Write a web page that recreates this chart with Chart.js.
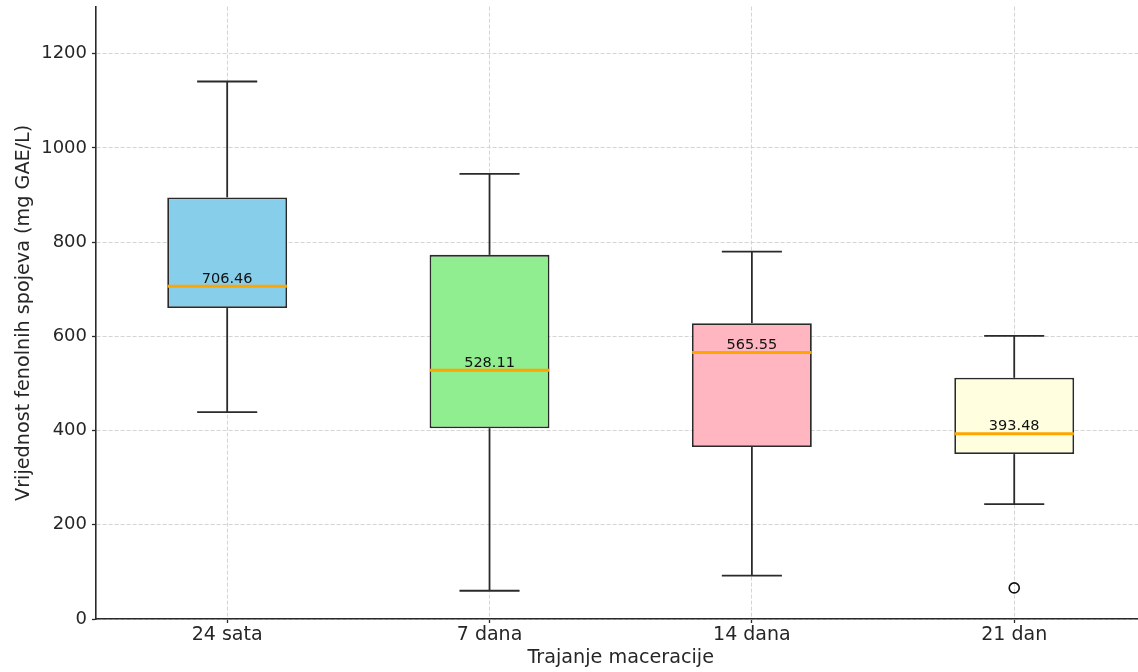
<!DOCTYPE html>
<html>
<head>
<meta charset="utf-8">
<script src="https://cdn.jsdelivr.net/npm/chart.js@4.4.1/dist/chart.umd.min.js"></script>
<style>
  html, body { margin: 0; padding: 0; background: #ffffff; overflow: hidden; }
  #chart { display: block; }
</style>
</head>
<body>
<canvas id="chart" width="1152" height="672"></canvas>
<script>
// Phenolic content by maceration time: five-number summaries per group
const categories   = ['24 sata', '7 dana', '14 dana', '21 dan'];
const whiskerLow   = [439, 60, 92, 244];
const quartile1    = [660, 405, 365, 350];
const medians      = [706.46, 528.11, 565.55, 393.48];
const quartile3    = [895, 773, 628, 512];
const whiskerHigh  = [1141, 945, 780, 601];
const outlierVals  = [null, null, null, 66];
const boxColors    = ['#87CEEB', '#90EE90', '#FFB6C1', '#FFFFE0'];

const FONT = 'DejaVu Sans';
const TEXT = '#262626';
const INK = '#2a2a2a';

// Whiskers, caps, median lines and median labels drawn on top of the boxes
const boxExtras = {
  id: 'boxExtras',
  afterDatasetsDraw(chart) {
    const { ctx, scales: { x, y } } = chart;
    const step = x.getPixelForValue(1) - x.getPixelForValue(0);
    const capHalf = step * 0.1145;
    const boxHalf = step * 0.2275;
    const line = (x1, y1, x2, y2) => {
      ctx.beginPath(); ctx.moveTo(x1, y1); ctx.lineTo(x2, y2); ctx.stroke();
    };
    ctx.save();
    categories.forEach((c, i) => {
      const cx = x.getPixelForValue(i);
      const yHi = y.getPixelForValue(whiskerHigh[i]);
      const yLo = y.getPixelForValue(whiskerLow[i]);
      const yQ1 = y.getPixelForValue(quartile1[i]);
      const yQ3 = y.getPixelForValue(quartile3[i]);
      const yMed = y.getPixelForValue(medians[i]);

      ctx.strokeStyle = INK;
      ctx.lineWidth = 1.8;
      ctx.lineCap = 'butt';
      line(cx, yQ3, cx, yHi);
      line(cx, yQ1, cx, yLo);
      line(cx - capHalf, yHi, cx + capHalf, yHi);
      line(cx - capHalf, yLo, cx + capHalf, yLo);

      ctx.strokeStyle = '#FFA500';
      ctx.lineWidth = 3;
      line(cx - boxHalf, yMed, cx + boxHalf, yMed);

      ctx.fillStyle = '#111111';
      ctx.font = `14.5px "${FONT}"`;
      ctx.textAlign = 'center';
      ctx.textBaseline = 'alphabetic';
      ctx.fillText(medians[i].toFixed(2), cx, yMed - 3.5);
    });
    ctx.restore();
  }
};

new Chart(document.getElementById('chart'), {
  type: 'bar',
  data: {
    labels: categories,
    datasets: [
      {
        type: 'line',
        label: 'Outliers',
        data: outlierVals,
        showLine: false,
        pointStyle: 'circle',
        pointRadius: 5,
        pointBorderWidth: 1.6,
        pointBorderColor: '#111111',
        pointBackgroundColor: 'rgba(255,255,255,0)',
        order: 0
      },
      {
        label: 'IQR',
        data: quartile1.map((q, i) => [q, quartile3[i]]),
        backgroundColor: boxColors,
        borderColor: INK,
        borderWidth: 1.8,
        borderSkipped: false,
        barPercentage: 0.457,
        categoryPercentage: 1.0,
        grouped: false,
        order: 1
      }
    ]
  },
  options: {
    responsive: false,
    animation: false,
    layout: { padding: { top: 4, left: 0, right: 1, bottom: 0 } },
    plugins: { legend: { display: false }, tooltip: { enabled: false } },
    scales: {
      x: {
        offset: true,
        grid: {
          offset: false,
          color: '#d4d4d4',
          lineWidth: 1,
          drawTicks: true,
          tickLength: 4,
          tickColor: INK,
          tickWidth: 1.3,
          tickBorderDash: []
        },
        border: { display: true, color: INK, width: 1.6, dash: [4, 2] },
        ticks: { color: TEXT, padding: 1, font: { family: FONT, size: 19 } },
        title: {
          display: true,
          text: 'Trajanje maceracije',
          color: TEXT,
          font: { family: FONT, size: 19.2 },
          padding: { top: 0, bottom: 2 }
        },
        afterFit(scale) {
          scale.height = 53;
          scale.paddingLeft = 0;
          scale.paddingRight = 0;
        }
      },
      y: {
        min: 0,
        max: 1300,
        grid: {
          color: '#d4d4d4',
          lineWidth: 1,
          drawTicks: true,
          tickLength: 4,
          tickColor: INK,
          tickWidth: 1.3,
          tickBorderDash: []
        },
        border: { display: true, color: INK, width: 1.6, dash: [4, 2] },
        ticks: {
          stepSize: 200,
          includeBounds: false,
          color: TEXT,
          padding: 5,
          font: { family: FONT, size: 18 },
          callback: (v) => String(v)
        },
        title: {
          display: true,
          text: 'Vrijednost fenolnih spojeva (mg GAE/L)',
          color: TEXT,
          font: { family: FONT, size: 19.2 },
          padding: { top: 12, bottom: 0 }
        },
        afterFit(scale) {
          scale.width = 96;
          scale.paddingTop = 0;
          scale.paddingBottom = 0;
        }
      }
    }
  },
  plugins: [boxExtras]
});
</script>
</body>
</html>
